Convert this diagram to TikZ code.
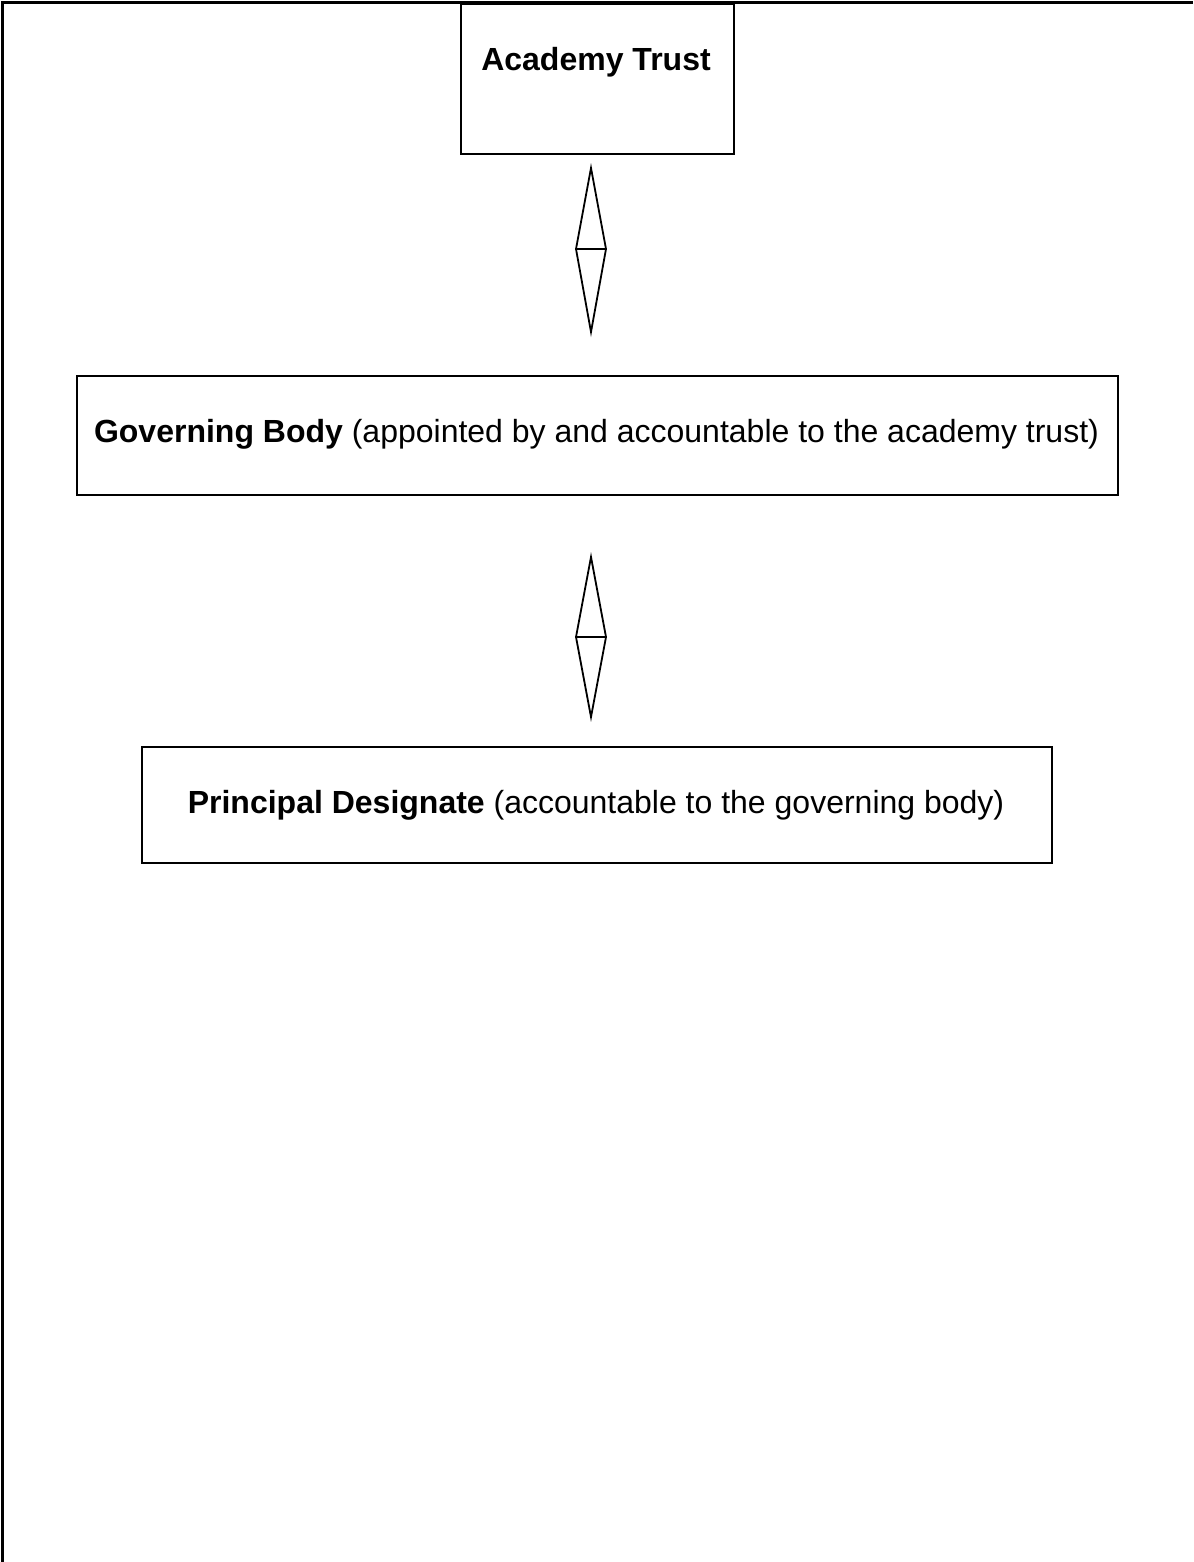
\documentclass[tikz,border=0pt]{standalone}
\usepackage{fontspec}
\setmainfont{Liberation Sans}
\begin{document}
\begin{tikzpicture}[x=1pt,y=-1pt,
  box/.style={draw=black,line width=2pt,inner sep=0pt,anchor=north west},
  lbl/.style={anchor=base,inner sep=0pt,font=\fontsize{32}{38}\selectfont},
  biglbl/.style={anchor=base,inner sep=0pt,font=\fontsize{32}{38}\selectfont\bfseries},
  frameline/.style={line width=3.5pt},
  twoway/.style={line width=1.8pt,line join=miter}]
\useasboundingbox (0,0) rectangle (1193,1562);
\fill[white] (0,0) rectangle (1193,1562);
% page frame (top and left)
\coordinate (fTL) at (2.5,2.5);
\coordinate (fTR) at (1193,2.5);
\coordinate (fBL) at (2.5,1562);
\draw[frameline] (fBL) -- (fTL) -- (fTR);
% boxes
\node[box,minimum width=273pt,minimum height=150pt] (trust) at (460,3) {};
\node[box,minimum width=1041pt,minimum height=119pt] (gov) at (76,375) {};
\node[box,minimum width=910pt,minimum height=116pt] (prin) at (141,746) {};
% texts
\node[biglbl] (trustT) at (596,71) {Academy Trust};
\node[lbl] (govT) at (596.5,442) {\textbf{Governing Body} (appointed by and accountable to the academy trust)};
\node[lbl] (prinT) at (596,813) {\textbf{Principal Designate} (accountable to the governing body)};
% two-way arrows
\coordinate (a1t) at (591,168);
\coordinate (a1r) at (606,249);
\coordinate (a1b) at (591,332);
\coordinate (a1l) at (576,249);
\draw[twoway] (a1t) -- (a1r) -- (a1b) -- (a1l) -- cycle (a1l) -- (a1r);
\coordinate (a2t) at (591,557);
\coordinate (a2r) at (606,637);
\coordinate (a2b) at (591,717);
\coordinate (a2l) at (576,637);
\draw[twoway] (a2t) -- (a2r) -- (a2b) -- (a2l) -- cycle (a2l) -- (a2r);
\end{tikzpicture}
\end{document}
